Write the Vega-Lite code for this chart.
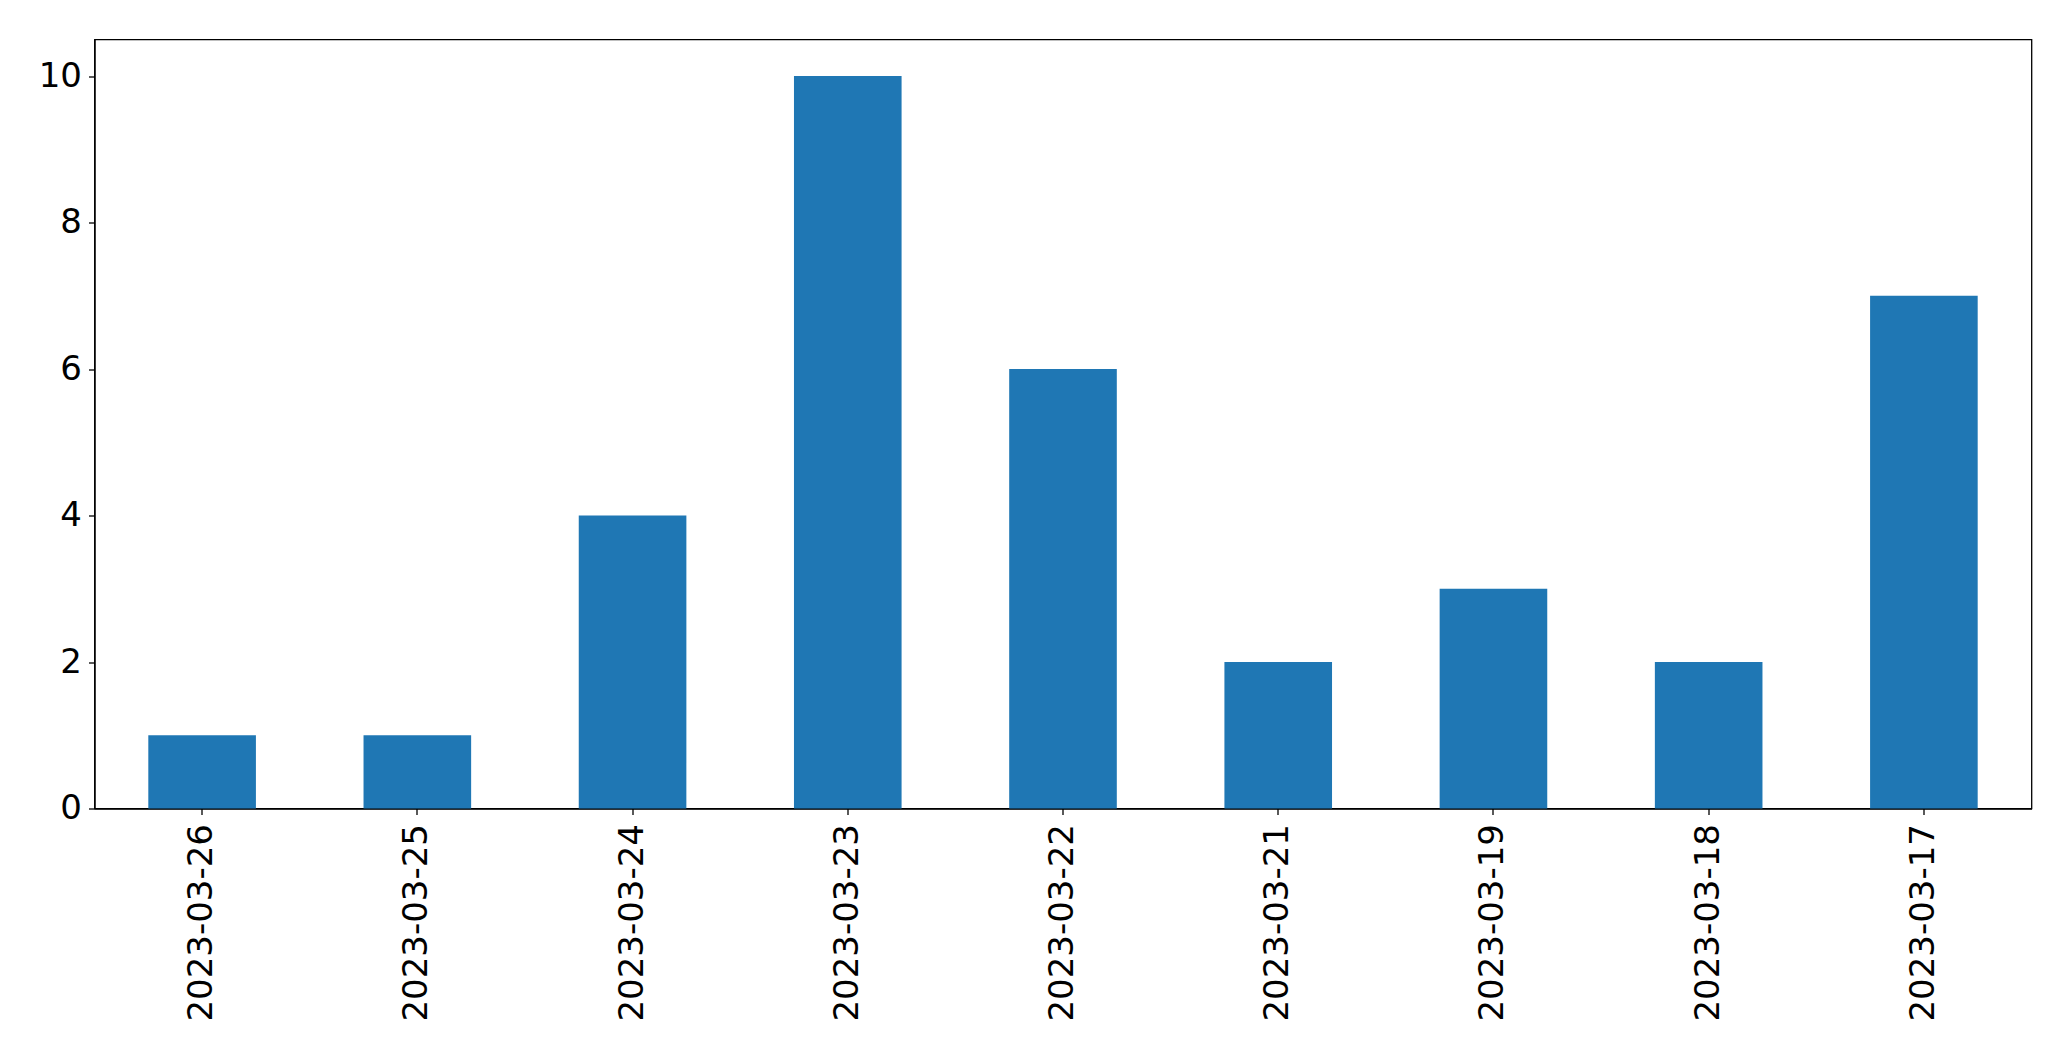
{
  "$schema": "https://vega.github.io/schema/vega-lite/v6.json",
  "width": 1937,
  "height": 769,
  "autosize": {"type": "none"},
  "padding": {"left": 94.5, "top": 39.5, "right": 39.5, "bottom": 252.5},
  "background": "white",
  "data": {
    "values": [
      {"date": "2023-03-26", "count": 1},
      {"date": "2023-03-25", "count": 1},
      {"date": "2023-03-24", "count": 4},
      {"date": "2023-03-23", "count": 10},
      {"date": "2023-03-22", "count": 6},
      {"date": "2023-03-21", "count": 2},
      {"date": "2023-03-19", "count": 3},
      {"date": "2023-03-18", "count": 2},
      {"date": "2023-03-17", "count": 7}
    ]
  },
  "mark": {"type": "bar", "color": "#1f77b4"},
  "encoding": {
    "x": {
      "field": "date",
      "type": "nominal",
      "sort": null,
      "scale": {"paddingInner": 0.5, "paddingOuter": 0.25},
      "axis": {
        "title": null,
        "labelAngle": 270,
        "labelFont": "DejaVu Sans",
        "labelFontSize": 34,
        "labelColor": "black",
        "labelPadding": 9,
        "labelLimit": 400,
        "tickColor": "black",
        "tickSize": 6,
        "tickWidth": 1.3,
        "domainColor": "black",
        "domainWidth": 1.3
      }
    },
    "y": {
      "field": "count",
      "type": "quantitative",
      "scale": {"domain": [0, 10.5], "nice": false},
      "axis": {
        "title": null,
        "values": [0, 2, 4, 6, 8, 10],
        "grid": false,
        "labelFont": "DejaVu Sans",
        "labelFontSize": 34,
        "labelColor": "black",
        "labelPadding": 7,
        "tickColor": "black",
        "tickSize": 6,
        "tickWidth": 1.3,
        "domainColor": "black",
        "domainWidth": 1.3
      }
    }
  },
  "config": {
    "view": {"stroke": "black", "strokeWidth": 1.3}
  }
}
